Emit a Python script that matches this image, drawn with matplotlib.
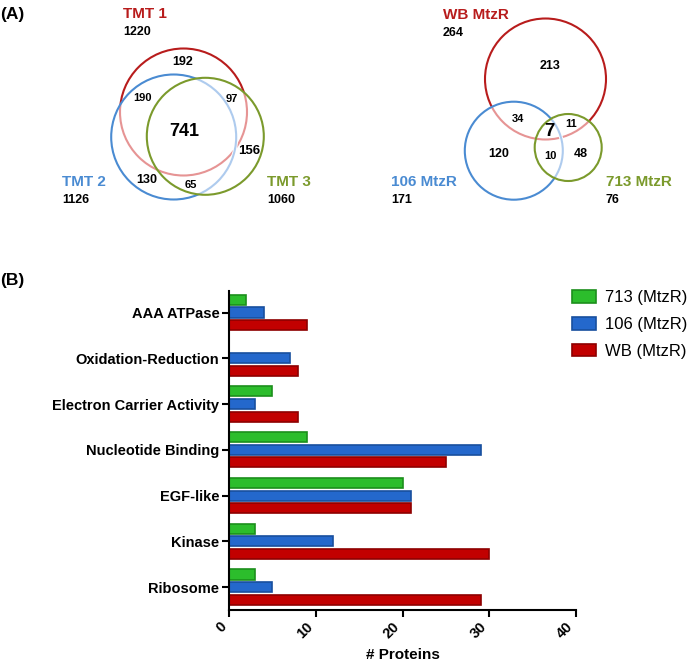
import matplotlib.pyplot as plt
from matplotlib.patches import Circle

plt.rcParams["font.family"] = ["Liberation Sans", "DejaVu Sans"]

# panel A: Venn counts
tmt_names = ["TMT 1", "TMT 2", "TMT 3"]
tmt_totals = [1220, 1126, 1060]
tmt_regions = [192, 190, 97, 741, 156, 130, 65]

mtz_names = ["WB MtzR", "106 MtzR", "713 MtzR"]
mtz_totals = [264, 171, 76]
mtz_regions = [213, 34, 11, 7, 120, 10, 48]

# panel B: GO categories
categories = ["AAA ATPase", "Oxidation-Reduction", "Electron Carrier Activity",
              "Nucleotide Binding", "EGF-like", "Kinase", "Ribosome"]
series_labels = ["713 (MtzR)", "106 (MtzR)", "WB (MtzR)"]
counts_713 = [2, 0, 5, 9, 20, 3, 3]
counts_106 = [4, 7, 3, 29, 21, 12, 5]
counts_wb = [9, 8, 8, 25, 21, 30, 29]

RED = "#b81c1c"
BLUE = "#4a8bd2"
GREEN = "#7b9a2c"
set_colors = [RED, BLUE, GREEN]
light_colors = ["#e69494", "#aecbee", GREEN]

fig = plt.figure(figsize=(6.92, 6.67), dpi=100)

# overlay in pixel coordinates for the Venn panel
ov = fig.add_axes([0, 0, 1, 1])
ov.set_xlim(0, 692)
ov.set_ylim(667, 0)
ov.axis("off")

ov.text(0, 15, "(A)", fontsize=12.5, fontweight="bold", va="center")
ov.text(0, 281, "(B)", fontsize=12.5, fontweight="bold", va="center")


def draw_venn(circles, names, totals, regions, name_pos, region_pos, region_sizes):
    for i, (cx, cy, r) in enumerate(circles):
        ov.add_patch(Circle((cx, cy), r, facecolor="none", edgecolor=set_colors[i], lw=1.5))
        # arcs lying inside a later circle look faded
        for (ox, oy, orad) in circles[i + 1:]:
            for col, lw in [("white", 2.8), (light_colors[i], 1.5)]:
                arc = Circle((cx, cy), r, facecolor="none", edgecolor=col, lw=lw)
                ov.add_patch(arc)
                arc.set_clip_path(Circle((ox, oy), orad, transform=ov.transData))
    for name, tot, (x, y), col in zip(names, totals, name_pos, set_colors):
        ov.text(x, y, name, color=col, fontsize=11, fontweight="bold", va="center")
        ov.text(x, y + 18, str(tot), color="black", fontsize=9, fontweight="bold", va="center")
    for val, (x, y), fs in zip(regions, region_pos, region_sizes):
        ov.text(x, y, str(val), fontsize=fs, fontweight="bold", ha="center", va="center")


draw_venn(
    [(183.5, 112, 63.5), (173.7, 137, 62.5), (205.3, 136.3, 58.5)],
    tmt_names, tmt_totals, tmt_regions,
    [(123, 14), (62, 182), (267, 182)],
    [(183, 62), (142, 98), (232, 99), (184, 131), (249, 151), (147, 180), (191, 185)],
    [9, 8, 8, 13, 9.5, 9, 8],
)
draw_venn(
    [(545.5, 79, 60.5), (513.8, 150.7, 49), (568.2, 147.5, 33.5)],
    mtz_names, mtz_totals, mtz_regions,
    [(443, 15), (391, 182), (606, 182)],
    [(550, 66), (518, 119), (571, 124), (549.5, 132), (499, 154), (550, 156), (581, 154)],
    [9, 8, 8, 13.5, 9, 8, 9],
)

# panel B: grouped horizontal bars
ax = fig.add_axes([229 / 692, 1 - 610 / 667, (576 - 229) / 692, (610 - 291) / 667])
ypos = list(range(len(categories)))
bar_h = 0.22
offsets = [-0.275, 0.0, 0.275]
fills = ["#2cbd2c", "#2468cc", "#c20000"]
edges = ["#1c8f1c", "#184f9e", "#8e0000"]
for vals, off, fc, ec, lab in zip([counts_713, counts_106, counts_wb], offsets, fills, edges, series_labels):
    ax.barh([y + off for y in ypos], vals, height=bar_h, color=fc, edgecolor=ec, linewidth=1.2, label=lab)

ax.set_xlim(0, 40)
ax.set_ylim(6.5, -0.47)
ax.set_yticks(ypos)
ax.set_yticklabels(categories, fontsize=10.5, fontweight="bold")
ax.set_xticks([0, 10, 20, 30, 40])
ax.set_xticklabels(["0", "10", "20", "30", "40"], fontsize=10.5, fontweight="bold", rotation=45, ha="right")
ax.set_xlabel("# Proteins", fontsize=11, fontweight="bold", labelpad=5)
for s in ["top", "right"]:
    ax.spines[s].set_visible(False)
for s in ["left", "bottom"]:
    ax.spines[s].set_linewidth(1.5)
ax.tick_params(direction="out", length=5, width=1.5, pad=2)

ax.legend(loc="upper left", bbox_to_anchor=(572 / 692, 1 - 290 / 667), bbox_transform=fig.transFigure,
          frameon=False, fontsize=12, borderpad=0, borderaxespad=0, handlelength=1.45,
          handleheight=0.8, handletextpad=0.55, labelspacing=0.7)

fig.savefig("out.png", dpi=100)
